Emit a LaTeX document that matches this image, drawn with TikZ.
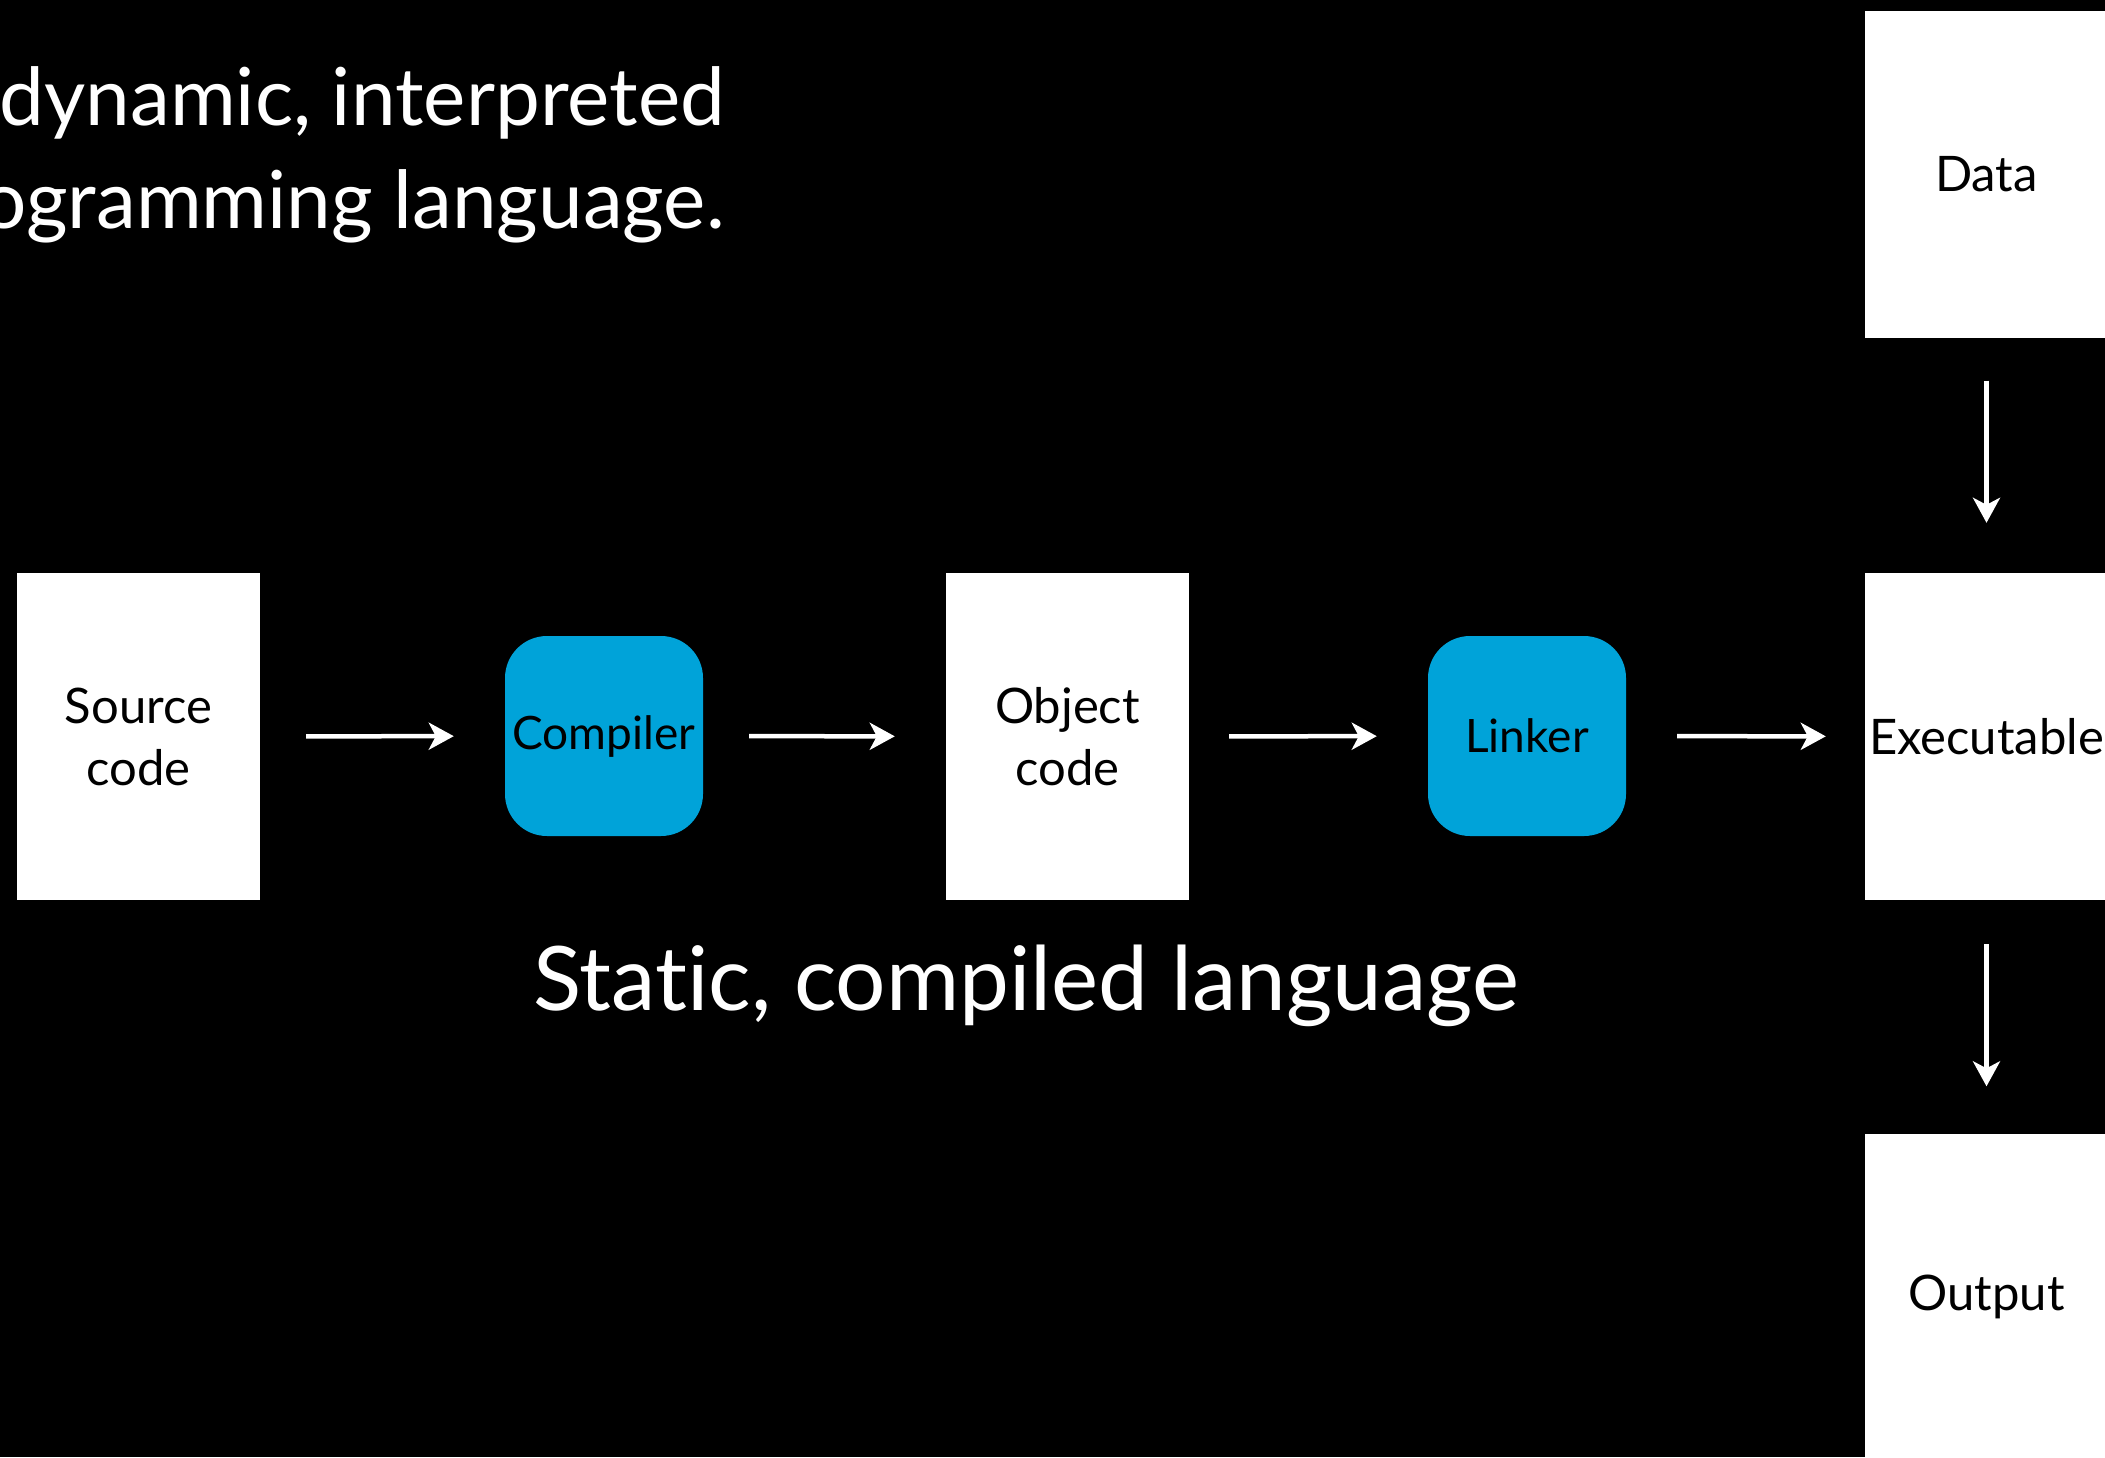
\documentclass[tikz,border=0pt]{standalone}
\usepackage{fontspec}
\setmainfont[Ligatures=NoCommon]{Lato}
\usetikzlibrary{arrows.meta}
\definecolor{toolblue}{RGB}{0,163,217}
\begin{document}
\begin{tikzpicture}[x=1pt,y=-1pt,
  docbox/.style={fill=white, text=black, minimum width=243pt, minimum height=327pt,
    inner sep=0pt, align=center, font=\fontsize{49}{62}\selectfont},
  toolbox/.style={fill=toolblue, text=black, minimum width=198pt, minimum height=200pt,
    rounded corners=42pt, inner sep=0pt, align=center, font=\fontsize{46}{62}\selectfont},
  flow/.style={draw=white, line width=4.5pt,
    -{Stealth[length=25pt,width=27pt,inset=7pt]},
    shorten <=46pt, shorten >=51pt},
  headline/.style={text=white, inner sep=0pt, font=\fontsize{80}{96}\selectfont}
]
  % page
  \useasboundingbox (0,0) rectangle (2105,1457);
  \clip (0,0) rectangle (2105,1457);
  \fill[black] (0,0) rectangle (2105,1457);

  % heading, running off the left edge
  \node[headline, anchor=base east] (head1) at (725,125) {dynamic, interpreted};
  \node[headline, anchor=base east] (head2) at (725,228) {programming language.};

  % compile pipeline
  \node[docbox]  (src)  at (138.5,736.5) {Source\\code};
  \node[toolbox] (comp) at (604,736)     {Compiler};
  \node[docbox]  (obj)  at (1067.5,736.5) {Object\\code};
  \node[toolbox] (link) at (1527,736)    {Linker};
  \node[docbox]  (exe)  at (1986.5,736.5) {Executable};

  % run column
  \node[docbox]  (data) at (1986.5,174)  {Data};
  \node[docbox]  (out)  at (1986.5,1297) {Output};

  \draw[flow] (src)  -- (comp);
  \draw[flow] (comp) -- (obj);
  \draw[flow, shorten <=40pt] (obj)  -- (link);
  \draw[flow, shorten <=51pt, shorten >=39pt] (link) -- (exe);
  \draw[flow, shorten <=43pt, shorten >=50pt] (data) -- (exe);
  \draw[flow, shorten <=44pt, shorten >=47pt] (exe)  -- (out);

  % caption
  \node[headline, anchor=base, font=\fontsize{89}{96}\selectfont] (caption) at (1026,1010) {Static, compiled language};
\end{tikzpicture}
\end{document}
